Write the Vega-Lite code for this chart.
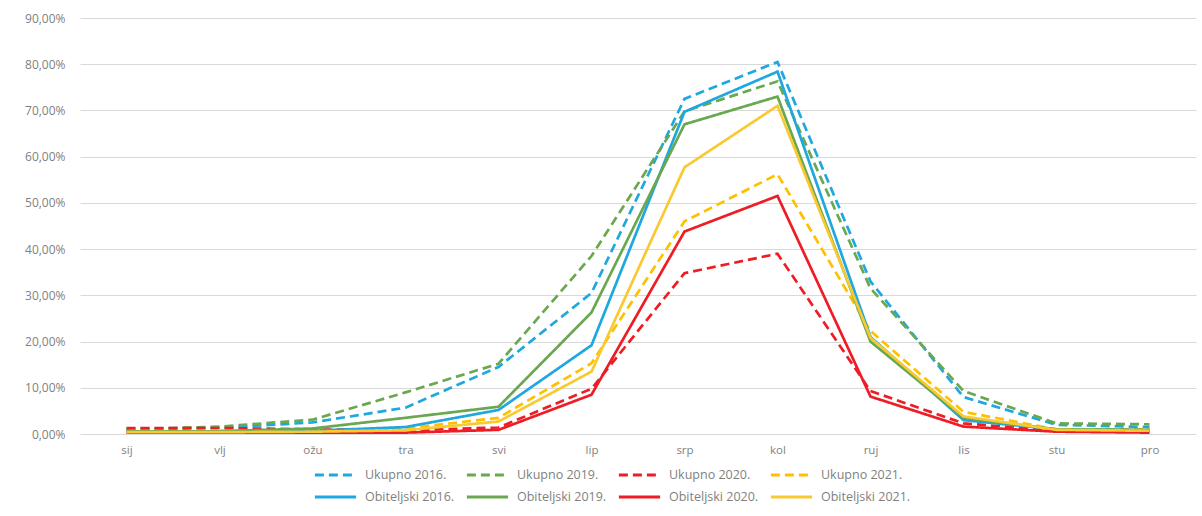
{
  "$schema": "https://vega.github.io/schema/vega-lite/v6.json",
  "width": 1116,
  "height": 416,
  "autosize": {"type": "none"},
  "padding": {"left": 80, "top": 18, "right": 6, "bottom": 82},
  "background": "white",
  "config": {
    "view": {"stroke": null},
    "font": "Open Sans",
    "axis": {"labelFont": "Open Sans", "labelColor": "#7f7f7f", "labelFontSize": 10.5}
  },
  "datasets": {
    "d": [
      {"month": "sij", "series": "Ukupno 2016.", "v": 0.010},
      {"month": "vlj", "series": "Ukupno 2016.", "v": 0.013},
      {"month": "ožu", "series": "Ukupno 2016.", "v": 0.025},
      {"month": "tra", "series": "Ukupno 2016.", "v": 0.057},
      {"month": "svi", "series": "Ukupno 2016.", "v": 0.145},
      {"month": "lip", "series": "Ukupno 2016.", "v": 0.305},
      {"month": "srp", "series": "Ukupno 2016.", "v": 0.725},
      {"month": "kol", "series": "Ukupno 2016.", "v": 0.805},
      {"month": "ruj", "series": "Ukupno 2016.", "v": 0.330},
      {"month": "lis", "series": "Ukupno 2016.", "v": 0.080},
      {"month": "stu", "series": "Ukupno 2016.", "v": 0.020},
      {"month": "pro", "series": "Ukupno 2016.", "v": 0.015},

      {"month": "sij", "series": "Ukupno 2019.", "v": 0.010},
      {"month": "vlj", "series": "Ukupno 2019.", "v": 0.016},
      {"month": "ožu", "series": "Ukupno 2019.", "v": 0.031},
      {"month": "tra", "series": "Ukupno 2019.", "v": 0.090},
      {"month": "svi", "series": "Ukupno 2019.", "v": 0.152},
      {"month": "lip", "series": "Ukupno 2019.", "v": 0.385},
      {"month": "srp", "series": "Ukupno 2019.", "v": 0.698},
      {"month": "kol", "series": "Ukupno 2019.", "v": 0.763},
      {"month": "ruj", "series": "Ukupno 2019.", "v": 0.315},
      {"month": "lis", "series": "Ukupno 2019.", "v": 0.093},
      {"month": "stu", "series": "Ukupno 2019.", "v": 0.023},
      {"month": "pro", "series": "Ukupno 2019.", "v": 0.021},

      {"month": "sij", "series": "Ukupno 2020.", "v": 0.013},
      {"month": "vlj", "series": "Ukupno 2020.", "v": 0.013},
      {"month": "ožu", "series": "Ukupno 2020.", "v": 0.010},
      {"month": "tra", "series": "Ukupno 2020.", "v": 0.008},
      {"month": "svi", "series": "Ukupno 2020.", "v": 0.014},
      {"month": "lip", "series": "Ukupno 2020.", "v": 0.098},
      {"month": "srp", "series": "Ukupno 2020.", "v": 0.348},
      {"month": "kol", "series": "Ukupno 2020.", "v": 0.390},
      {"month": "ruj", "series": "Ukupno 2020.", "v": 0.093},
      {"month": "lis", "series": "Ukupno 2020.", "v": 0.023},
      {"month": "stu", "series": "Ukupno 2020.", "v": 0.007},
      {"month": "pro", "series": "Ukupno 2020.", "v": 0.006},

      {"month": "sij", "series": "Ukupno 2021.", "v": 0.005},
      {"month": "vlj", "series": "Ukupno 2021.", "v": 0.005},
      {"month": "ožu", "series": "Ukupno 2021.", "v": 0.006},
      {"month": "tra", "series": "Ukupno 2021.", "v": 0.012},
      {"month": "svi", "series": "Ukupno 2021.", "v": 0.035},
      {"month": "lip", "series": "Ukupno 2021.", "v": 0.153},
      {"month": "srp", "series": "Ukupno 2021.", "v": 0.460},
      {"month": "kol", "series": "Ukupno 2021.", "v": 0.562},
      {"month": "ruj", "series": "Ukupno 2021.", "v": 0.223},
      {"month": "lis", "series": "Ukupno 2021.", "v": 0.048},
      {"month": "stu", "series": "Ukupno 2021.", "v": 0.010},
      {"month": "pro", "series": "Ukupno 2021.", "v": 0.010},

      {"month": "sij", "series": "Obiteljski 2016.", "v": 0.006},
      {"month": "vlj", "series": "Obiteljski 2016.", "v": 0.006},
      {"month": "ožu", "series": "Obiteljski 2016.", "v": 0.007},
      {"month": "tra", "series": "Obiteljski 2016.", "v": 0.015},
      {"month": "svi", "series": "Obiteljski 2016.", "v": 0.052},
      {"month": "lip", "series": "Obiteljski 2016.", "v": 0.192},
      {"month": "srp", "series": "Obiteljski 2016.", "v": 0.697},
      {"month": "kol", "series": "Obiteljski 2016.", "v": 0.784},
      {"month": "ruj", "series": "Obiteljski 2016.", "v": 0.210},
      {"month": "lis", "series": "Obiteljski 2016.", "v": 0.030},
      {"month": "stu", "series": "Obiteljski 2016.", "v": 0.010},
      {"month": "pro", "series": "Obiteljski 2016.", "v": 0.008},

      {"month": "sij", "series": "Obiteljski 2019.", "v": 0.006},
      {"month": "vlj", "series": "Obiteljski 2019.", "v": 0.006},
      {"month": "ožu", "series": "Obiteljski 2019.", "v": 0.012},
      {"month": "tra", "series": "Obiteljski 2019.", "v": 0.035},
      {"month": "svi", "series": "Obiteljski 2019.", "v": 0.059},
      {"month": "lip", "series": "Obiteljski 2019.", "v": 0.263},
      {"month": "srp", "series": "Obiteljski 2019.", "v": 0.670},
      {"month": "kol", "series": "Obiteljski 2019.", "v": 0.730},
      {"month": "ruj", "series": "Obiteljski 2019.", "v": 0.200},
      {"month": "lis", "series": "Obiteljski 2019.", "v": 0.035},
      {"month": "stu", "series": "Obiteljski 2019.", "v": 0.010},
      {"month": "pro", "series": "Obiteljski 2019.", "v": 0.009},

      {"month": "sij", "series": "Obiteljski 2020.", "v": 0.003},
      {"month": "vlj", "series": "Obiteljski 2020.", "v": 0.003},
      {"month": "ožu", "series": "Obiteljski 2020.", "v": 0.003},
      {"month": "tra", "series": "Obiteljski 2020.", "v": 0.003},
      {"month": "svi", "series": "Obiteljski 2020.", "v": 0.009},
      {"month": "lip", "series": "Obiteljski 2020.", "v": 0.085},
      {"month": "srp", "series": "Obiteljski 2020.", "v": 0.438},
      {"month": "kol", "series": "Obiteljski 2020.", "v": 0.515},
      {"month": "ruj", "series": "Obiteljski 2020.", "v": 0.081},
      {"month": "lis", "series": "Obiteljski 2020.", "v": 0.016},
      {"month": "stu", "series": "Obiteljski 2020.", "v": 0.005},
      {"month": "pro", "series": "Obiteljski 2020.", "v": 0.003},

      {"month": "sij", "series": "Obiteljski 2021.", "v": 0.004},
      {"month": "vlj", "series": "Obiteljski 2021.", "v": 0.004},
      {"month": "ožu", "series": "Obiteljski 2021.", "v": 0.005},
      {"month": "tra", "series": "Obiteljski 2021.", "v": 0.008},
      {"month": "svi", "series": "Obiteljski 2021.", "v": 0.027},
      {"month": "lip", "series": "Obiteljski 2021.", "v": 0.135},
      {"month": "srp", "series": "Obiteljski 2021.", "v": 0.577},
      {"month": "kol", "series": "Obiteljski 2021.", "v": 0.710},
      {"month": "ruj", "series": "Obiteljski 2021.", "v": 0.208},
      {"month": "lis", "series": "Obiteljski 2021.", "v": 0.038},
      {"month": "stu", "series": "Obiteljski 2021.", "v": 0.009},
      {"month": "pro", "series": "Obiteljski 2021.", "v": 0.007}
    ]
  },
  "data": {"name": "d"},
  "mark": {"type": "line", "strokeWidth": 2.7, "strokeCap": "butt"},
  "encoding": {
    "x": {
      "field": "month",
      "type": "ordinal",
      "sort": ["sij", "vlj", "ožu", "tra", "svi", "lip", "srp", "kol", "ruj", "lis", "stu", "pro"],
      "scale": {"type": "point", "padding": 0.5},
      "axis": {"title": null, "domain": false, "ticks": false, "grid": false, "labelAngle": 0, "labelPadding": 10, "labelFontSize": 11.5}
    },
    "y": {
      "field": "v",
      "type": "quantitative",
      "scale": {"domain": [0, 0.9], "nice": false},
      "axis": {
        "title": null,
        "domain": false,
        "ticks": false,
        "values": [0, 0.1, 0.2, 0.3, 0.4, 0.5, 0.6, 0.7, 0.8, 0.9],
        "labelExpr": "replace(format(datum.value, '.2%'), '.', ',')",
        "labelPadding": 15,
        "labelFontSize": 12,
        "gridColor": "#d9d9d9",
        "gridWidth": 1
      }
    },
    "color": {
      "field": "series",
      "type": "nominal",
      "scale": {
        "domain": ["Ukupno 2016.", "Ukupno 2019.", "Ukupno 2020.", "Ukupno 2021.", "Obiteljski 2016.", "Obiteljski 2019.", "Obiteljski 2020.", "Obiteljski 2021."],
        "range": ["#1fa7df", "#6aa84f", "#ee1c25", "#ffc000", "#1fa7df", "#6aa84f", "#ee1c25", "#f9c932"]
      },
      "legend": {
        "title": null,
        "orient": "none",
        "legendX": 233,
        "legendY": 450,
        "direction": "horizontal",
        "columns": 4,
        "columnPadding": 10,
        "rowPadding": 8,
        "clipHeight": 14,
        "symbolType": "stroke",
        "symbolSize": 1700,
        "symbolStrokeWidth": 3,
        "labelOffset": 7,
        "labelFont": "Open Sans",
        "labelFontSize": 12.5,
        "labelColor": "#7f7f7f"
      }
    },
    "strokeDash": {
      "field": "series",
      "type": "nominal",
      "scale": {
        "domain": ["Ukupno 2016.", "Ukupno 2019.", "Ukupno 2020.", "Ukupno 2021.", "Obiteljski 2016.", "Obiteljski 2019.", "Obiteljski 2020.", "Obiteljski 2021."],
        "range": [[9, 5], [9, 5], [9, 5], [9, 5], [1, 0], [1, 0], [1, 0], [1, 0]]
      }
    }
  }
}
